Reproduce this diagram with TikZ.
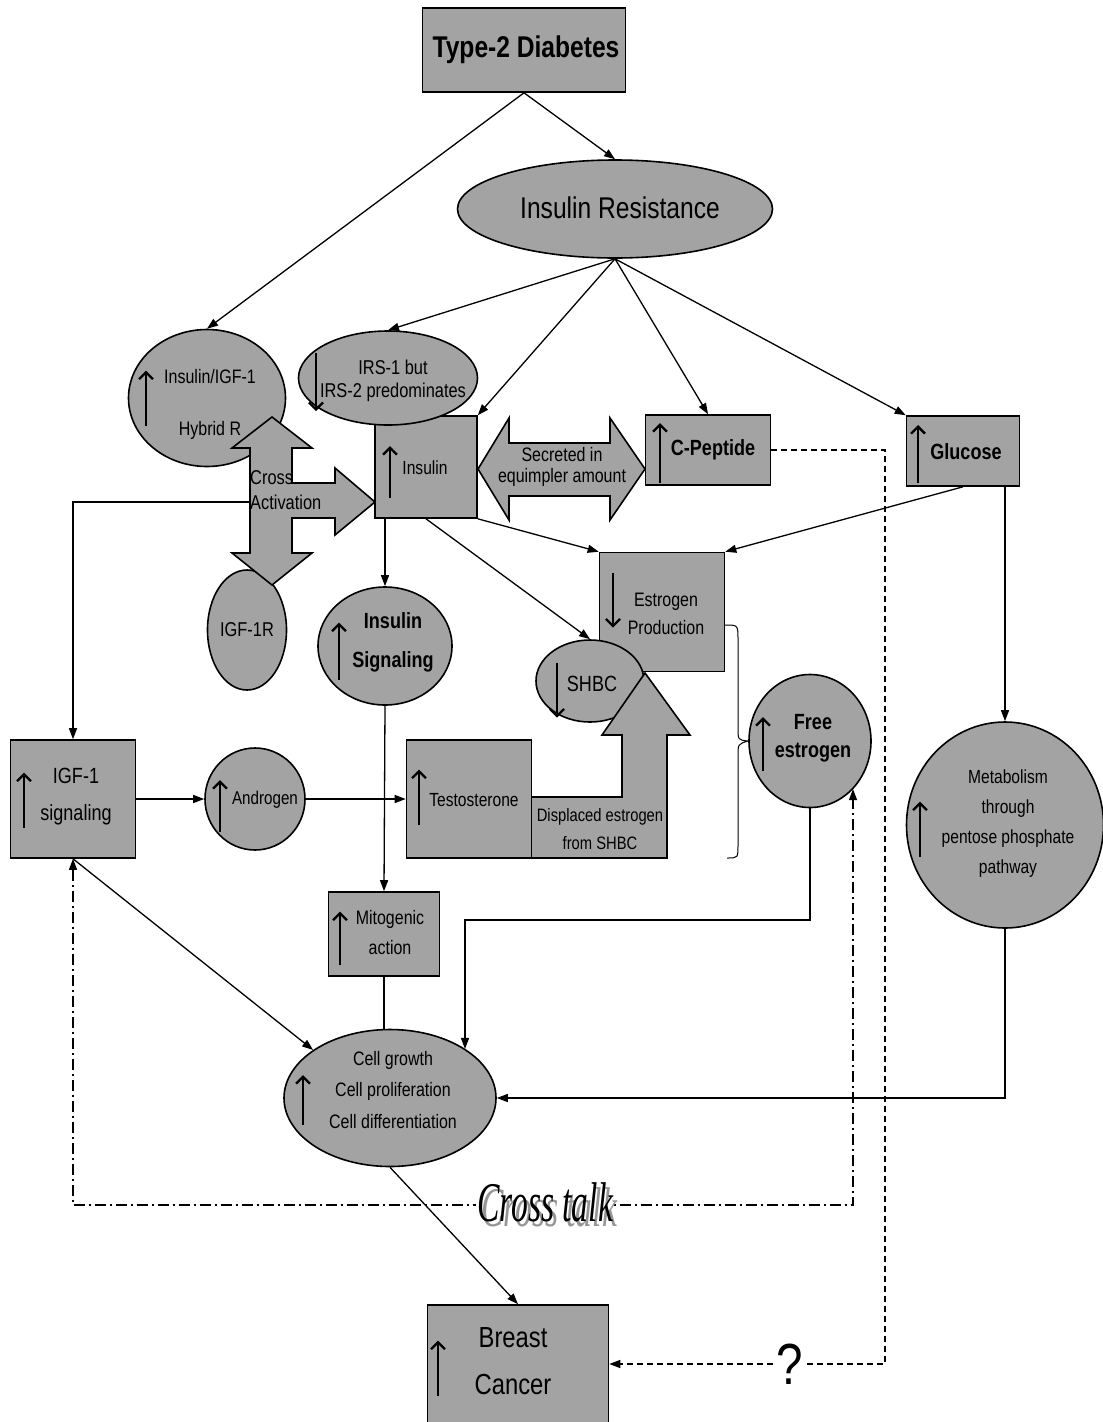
\documentclass[tikz,border=0pt]{standalone}
\usepackage{fontspec}
\setmainfont{Liberation Sans}[FakeStretch=0.82]
\newfontfamily\talkfont{Liberation Serif}[FakeStretch=0.6]
\usetikzlibrary{arrows.meta,shapes.geometric,calc}
\definecolor{blob}{RGB}{163,163,163}
\definecolor{shade}{RGB}{150,150,150}
\tikzset{
  >={Triangle[length=11pt,width=8pt]},
  ell/.style={ellipse,draw=black,fill=blob,line width=1.6pt,inner sep=0pt},
  sq/.style={rectangle,draw=black,fill=blob,line width=1.6pt,inner sep=0pt},
  fat/.style={draw=black,fill=blob,line width=1.6pt,line join=miter},
  lab/.style 2 args={font=\fontsize{#1pt}{#2pt}\selectfont,align=center,inner sep=0pt},
  labb/.style 2 args={font=\fontsize{#1pt}{#2pt}\selectfont\bfseries,align=center,inner sep=0pt},
  flow/.style={->,line width=1.3pt},
  link/.style={line width=1.3pt},
  dsh/.style={->,line width=1.5pt,dash pattern=on 6pt off 4pt},
  dashdot/.style={<->,line width=1.2pt,dash pattern=on 11pt off 4pt on 2pt off 4pt},
  markarr/.style={line width=2.3pt,-{Straight Barb[length=7pt,width=14pt]}},
  % up / down marks inside the blobs
  pics/upmark/.style={code={\draw[markarr] (0,#1/2) -- (0,-#1/2);}},
  pics/upmark/.default=52,
  pics/downmark/.style={code={\draw[markarr] (0,-#1/2) -- (0,#1/2);}},
  pics/downmark/.default=52,
}
\newcommand\shadowed[1]{\makebox[0pt][l]{\hspace*{4pt}\raisebox{-5pt}{\textcolor{shade}{#1}}}#1}
\begin{document}
\begin{tikzpicture}[x=1pt,y=-1pt]
\useasboundingbox (0,0) rectangle (1103,1422);
% shapes
\node[sq,minimum width=203,minimum height=84] (t2d) at (524,50) {};
\node[ell,minimum width=315,minimum height=98] (ir) at (615,209) {};
\node[ell,minimum width=157,minimum height=137] (hyb) at (207,398) {};
\node[sq,minimum width=102,minimum height=102] (ins) at (426,467) {};
\node[ell,minimum width=179,minimum height=94] (irs) at (388,378) {};
\node[sq,minimum width=125,minimum height=70] (cpep) at (708,450) {};
\node[sq,minimum width=113,minimum height=70] (glu) at (963,451) {};
\node[ell,minimum width=79,minimum height=120] (igfr) at (247,630) {};
\node[ell,minimum width=134,minimum height=118] (insig) at (385,646) {};
\node[sq,minimum width=125,minimum height=119] (estr) at (662,612) {};
\node[ell,minimum width=108,minimum height=82] (shbc) at (590,681) {};
\filldraw[fat] (531,797) -- (622,797) -- (622,735) -- (602,735) -- (645,673) -- (690,735)
  -- (667,735) -- (667,858) -- (531,858) -- cycle;
\node[sq,minimum width=125,minimum height=118] (test) at (469,799) {};
\node[sq,minimum width=125,minimum height=118] (igfs) at (73,799) {};
\node[ell,minimum width=100,minimum height=102] (andr) at (255,799) {};
\node[ell,minimum width=122,minimum height=133] (fe) at (810,741) {};
\node[ell,minimum width=197,minimum height=206] (met) at (1005,825) {};
\node[sq,minimum width=111,minimum height=84] (mito) at (384,934) {};
\node[ell,minimum width=212,minimum height=137] (cell) at (390,1098) {};
\node[sq,minimum width=181,minimum height=118] (bc) at (518,1364) {};
% fat arrows
\filldraw[fat] (250,448) -- (232,448) -- (272,417) -- (312,448) -- (292,448) -- (292,483)
  -- (335,483) -- (335,468) -- (375,502) -- (335,535) -- (335,518) -- (292,518) -- (292,553)
  -- (312,553) -- (272,585) -- (232,553) -- (250,553) -- cycle;
\coordinate (xleft) at (250,502);
\filldraw[fat] (478,469) -- (509,418) -- (509,443) -- (610,443) -- (610,418) -- (645,469)
  -- (610,520) -- (610,496) -- (509,496) -- (509,520) -- cycle;
% connectors
\draw[flow] (t2d.south) -- (ir.north);
\draw[flow] (t2d.south) -- (hyb.north);
\draw[flow] (ir.south) -- (irs.north);
\draw[flow] (ir.south) -- (ins.north east);
\draw[flow] (ir.south) -- (cpep.north);
\draw[flow] (ir.south) -- (glu.north west);
\draw[flow] (glu.south) -- (estr.north east);
\draw[flow] (glu.south -| met.north) -- (met.north);
\draw[flow] (met.south) |- (cell.east);
\draw[flow] (ins.south east) -- (estr.north west);
\draw[flow] (insig.north |- ins.south) -- (insig.north);
\draw[flow] (ins.south) -- (shbc.north);
\draw[flow] (xleft) -| (igfs.north);
\draw[flow] (insig.south) -- (mito.north);
\draw[flow] (igfs.east) -- (andr.west);
\draw[flow] (andr.east) -- (test.west);
\draw[link] (mito.south) -- (mito.south |- cell.north);
\draw[flow] (igfs.south) -- (cell.148);
\draw[flow] (cell.south) -- (bc.north);
\coordinate (fk) at (465,920);
\draw[flow] (fe.south) |- (fk) -- (fk |- cell.33);
\coordinate (brtop) at (725,625);
\coordinate (brbot) at (727,858);
\draw[line width=1pt] (brtop) .. controls (738,625) .. (738,640) -- (738,728)
  .. controls (738,740) .. (fe.west) .. controls (738,744) .. (738,756) -- (738,845)
  .. controls (738,858) .. (brbot);
\coordinate (dk) at (885,450);
\draw[dsh] (cpep.east) -- (dk) |- node[lab={58}{60},fill=white,inner xsep=3pt,pos=0.672] (qm) {?} (bc.east);
\coordinate (ctR) at (853,1205);
\draw[dashdot] (igfs.south) |- (ctR) -- (ctR |- fe.-48);
\node[font=\talkfont\itshape\fontsize{56pt}{60pt}\selectfont,fill=white,inner sep=1pt] (talk) at (545,1205) {\shadowed{Cross talk}};
% texts
\node[labb={30}{34}] (t2d-t) at (526,50) {Type-2 Diabetes};
\node[lab={30}{34}] (ir-t) at (620,208) {Insulin Resistance};
\node[lab={19.5}{52}] (hyb-t) at (210,404) {Insulin/IGF-1\\Hybrid R};
\node[lab={20}{23}] (irs-t) at (393,381) {IRS-1 but\\IRS-2 predominates};
\node[lab={19}{23}] (ins-t) at (425,468) {Insulin};
\node[lab={19.5}{21}] (secr-t) at (562,467) {Secreted in\\equimpler amount};
\node[labb={22}{26}] (cpep-t) at (713,450) {C-Peptide};
\node[labb={22}{26}] (glu-t) at (966,452) {Glucose};
\node[lab={19.5}{28}] (estr-t) at (666,614) {Estrogen\\Production};
\node[lab={22}{26}] (shbc-t) at (592,684) {SHBC};
\node[lab={20}{24}] (igfr-t) at (247,630) {IGF-1R};
\node[labb={22}{39}] (insig-t) at (393,642) {Insulin\\Signaling};
\node[lab={20}{25},align=left,anchor=west] (cross-t) at (250,490) {Cross\\Activation};
\node[lab={22}{37}] (igfs-t) at (76,797) {IGF-1\\signaling};
\node[lab={18.5}{24}] (andr-t) at (265,800) {Androgen};
\node[lab={19}{24}] (test-t) at (474,800) {Testosterone};
\node[lab={18}{28}] (disp-t) at (600,829) {Displaced estrogen\\from SHBC};
\node[labb={22}{28}] (fe-t) at (813,738) {Free\\estrogen};
\node[lab={19}{30}] (met-t) at (1008,824) {Metabolism\\through\\pentose phosphate\\pathway};
\node[lab={19.5}{30}] (mito-t) at (390,933) {Mitogenic\\action};
\node[lab={19.5}{31.5}] (cell-t) at (393,1090) {Cell growth\\Cell proliferation\\Cell differentiation};
\node[lab={29}{47}] (bc-t) at (513,1361) {Breast\\Cancer};
% marks
\pic at (146,398) {upmark=55};
\pic at (316,382) {downmark=58};
\pic at (390,472) {upmark=52};
\pic at (660,453) {upmark=60};
\pic at (918,454) {upmark=58};
\pic at (613,600) {downmark=55};
\pic at (557,690) {downmark=55};
\pic at (339,651) {upmark=57};
\pic at (24,800) {upmark=55};
\pic at (220,806) {upmark=52};
\pic at (419,797) {upmark=55};
\pic at (763,744) {upmark=54};
\pic at (920,829) {upmark=55};
\pic at (340,938) {upmark=53};
\pic at (303,1100) {upmark=50};
\pic at (438,1368) {upmark=55};
\end{tikzpicture}
\end{document}
